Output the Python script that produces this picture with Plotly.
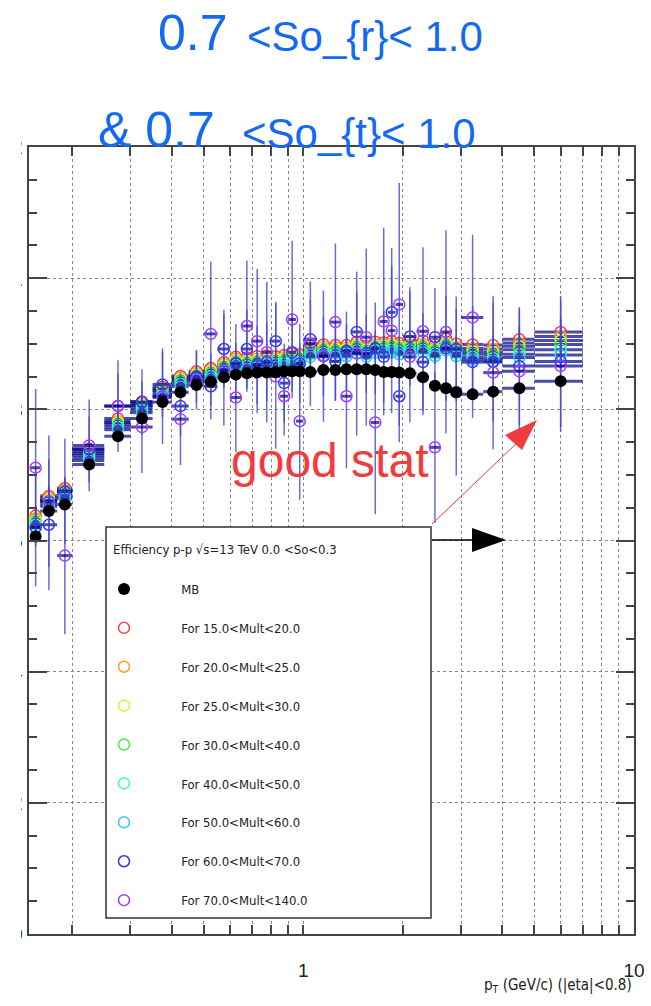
import math
import plotly.graph_objects as go

# ---------------- data ----------------
pt = [0.155, 0.17, 0.19,
      0.225, 0.275, 0.325, 0.375, 0.425, 0.475, 0.525, 0.575,
      0.625, 0.675, 0.725, 0.775, 0.825, 0.875, 0.925, 0.975,
      1.05, 1.15, 1.25, 1.35, 1.45, 1.55, 1.65, 1.75, 1.85, 1.95,
      2.1, 2.3, 2.5, 2.7, 2.9,
      3.25, 3.75, 4.5, 6.0]
pt_halfwidth = [0.005, 0.01, 0.01,
                0.025, 0.025, 0.025, 0.025, 0.025, 0.025, 0.025, 0.025,
                0.025, 0.025, 0.025, 0.025, 0.025, 0.025, 0.025, 0.025,
                0.05, 0.05, 0.05, 0.05, 0.05, 0.05, 0.05, 0.05, 0.05, 0.05,
                0.1, 0.1, 0.1, 0.1, 0.1,
                0.25, 0.25, 0.5, 1.0]

eff_mb = [0.606, 0.645, 0.655,
          0.716, 0.759, 0.786, 0.811, 0.826, 0.837, 0.842, 0.849,
          0.853, 0.855, 0.856, 0.856, 0.857, 0.858, 0.858, 0.858,
          0.857, 0.860, 0.860, 0.861, 0.861, 0.861, 0.860, 0.857, 0.857, 0.856,
          0.855, 0.849, 0.836, 0.832, 0.826,
          0.823, 0.827, 0.832, 0.843]
err_mb = [0.004, 0.004, 0.004, 0.003, 0.003, 0.003, 0.003, 0.003, 0.003, 0.003, 0.003,
          0.003, 0.003, 0.003, 0.003, 0.003, 0.003, 0.003, 0.003,
          0.003, 0.003, 0.003, 0.003, 0.003, 0.003, 0.003, 0.003, 0.003, 0.003,
          0.004, 0.004, 0.004, 0.004, 0.004, 0.005, 0.005, 0.006, 0.008]

eff_15_20 = [0.638, 0.668, 0.680,
             0.740, 0.786, 0.812, 0.834, 0.851, 0.858, 0.863, 0.872,
             0.880, 0.879, 0.881, 0.882, 0.881, 0.883, 0.885, 0.884,
             0.897, 0.899, 0.898, 0.898, 0.903, 0.897, 0.903, 0.902, 0.904, 0.901,
             0.904, 0.905, 0.899, 0.908, 0.900,
             0.899, 0.898, 0.907, 0.918]
eff_20_25 = [0.634, 0.665, 0.677,
             0.736, 0.782, 0.808, 0.831, 0.848, 0.855, 0.860, 0.869,
             0.877, 0.875, 0.877, 0.878, 0.878, 0.879, 0.881, 0.881,
             0.893, 0.895, 0.894, 0.894, 0.899, 0.893, 0.899, 0.899, 0.900, 0.897,
             0.899, 0.900, 0.894, 0.903, 0.895,
             0.893, 0.892, 0.901, 0.911]
eff_25_30 = [0.631, 0.662, 0.675,
             0.733, 0.780, 0.806, 0.829, 0.846, 0.853, 0.858, 0.867,
             0.875, 0.873, 0.875, 0.876, 0.876, 0.877, 0.879, 0.879,
             0.891, 0.893, 0.892, 0.892, 0.897, 0.891, 0.897, 0.897, 0.898, 0.895,
             0.897, 0.898, 0.892, 0.901, 0.892,
             0.889, 0.887, 0.896, 0.905]
eff_30_40 = [0.628, 0.660, 0.672,
             0.730, 0.777, 0.803, 0.826, 0.843, 0.850, 0.855, 0.864,
             0.872, 0.870, 0.872, 0.873, 0.873, 0.874, 0.876, 0.876,
             0.888, 0.890, 0.889, 0.889, 0.894, 0.888, 0.894, 0.894, 0.895, 0.892,
             0.894, 0.895, 0.889, 0.898, 0.889,
             0.885, 0.883, 0.891, 0.899]
eff_40_50 = [0.624, 0.656, 0.668,
             0.726, 0.773, 0.799, 0.822, 0.839, 0.846, 0.851, 0.860,
             0.868, 0.866, 0.868, 0.869, 0.869, 0.870, 0.872, 0.872,
             0.884, 0.886, 0.885, 0.885, 0.890, 0.884, 0.890, 0.890, 0.891, 0.888,
             0.890, 0.891, 0.885, 0.894, 0.885,
             0.880, 0.878, 0.884, 0.891]
eff_50_60 = [0.620, 0.652, 0.664,
             0.722, 0.769, 0.795, 0.818, 0.835, 0.842, 0.847, 0.856,
             0.864, 0.862, 0.864, 0.865, 0.865, 0.866, 0.868, 0.868,
             0.880, 0.882, 0.881, 0.881, 0.886, 0.880, 0.886, 0.886, 0.887, 0.884,
             0.886, 0.887, 0.881, 0.890, 0.881,
             0.876, 0.874, 0.879, 0.883]
err_mid_mult = [0.015, 0.015, 0.015,
                0.012, 0.010, 0.010, 0.010, 0.008, 0.008, 0.008, 0.008,
                0.008, 0.008, 0.008, 0.008, 0.008, 0.008, 0.008, 0.008,
                0.010, 0.010, 0.010, 0.010, 0.010, 0.010, 0.010, 0.010, 0.010, 0.010,
                0.012, 0.012, 0.012, 0.012, 0.012,
                0.015, 0.015, 0.020, 0.025]

eff_60_70 = [0.620, 0.624, 0.675,
             0.739, 0.805, 0.811, 0.838, 0.805, 0.850, 0.835, 0.892,
             0.870, 0.892, 0.868, 0.872, 0.904, 0.840, 0.887, 0.870,
             0.907, 0.881, 0.873, 0.889, 0.918, 0.885, 0.893, 0.880, 0.948, 0.820,
             0.911, 0.872, 0.910, 0.893, 0.892,
             0.872, 0.872, 0.866, 0.873]
err_60_70 = [0.090, 0.100, 0.080,
             0.050, 0.050, 0.050, 0.050, 0.045, 0.040, 0.050, 0.060,
             0.060, 0.060, 0.060, 0.060, 0.060, 0.060, 0.060, 0.060,
             0.060, 0.060, 0.060, 0.060, 0.060, 0.060, 0.070, 0.070, 0.070, 0.070,
             0.075, 0.075, 0.075, 0.080, 0.080,
             0.085, 0.090, 0.090, 0.100]

eff_70_140 = [0.711, 0.660, 0.577,
              0.745, 0.805, 0.773, 0.820, 0.785, 0.845, 0.915, 0.860,
              0.818, 0.927, 0.904, 0.887, 0.850, 0.820, 0.937, 0.782,
              0.900, 0.881, 0.933, 0.820, 0.885, 0.910, 0.780, 0.934, 0.920, 0.960,
              0.880, 0.919, 0.742, 0.918, 0.826,
              0.940, 0.856, 0.858, 0.866]
err_70_140 = [0.120, 0.100, 0.120,
              0.070, 0.070, 0.070, 0.073, 0.070, 0.045, 0.110, 0.085,
              0.083, 0.100, 0.110, 0.107, 0.110, 0.060, 0.120, 0.120,
              0.095, 0.100, 0.120, 0.110, 0.125, 0.135, 0.140, 0.143, 0.126, 0.185,
              0.100, 0.128, 0.115, 0.155, 0.127,
              0.126, 0.117, 0.095, 0.100]

x_tick_values = [0.2, 0.3, 0.4, 0.5, 0.6, 0.7, 0.8, 0.9, 1, 2, 3, 4, 5, 6, 7, 8, 9, 10]
x_tick_text = ["", "", "", "", "", "", "", "", "1", "", "", "", "", "", "", "", "", "10"]

series = [
    ("For 15.0&lt;Mult&lt;20.0", eff_15_20, err_mid_mult, "#ff3c3c"),
    ("For 20.0&lt;Mult&lt;25.0", eff_20_25, err_mid_mult, "#ffa020"),
    ("For 25.0&lt;Mult&lt;30.0", eff_25_30, err_mid_mult, "#c4ff30"),
    ("For 30.0&lt;Mult&lt;40.0", eff_30_40, err_mid_mult, "#3cf03c"),
    ("For 40.0&lt;Mult&lt;50.0", eff_40_50, err_mid_mult, "#3cffc4"),
    ("For 50.0&lt;Mult&lt;60.0", eff_50_60, err_mid_mult, "#30c8ff"),
    ("For 60.0&lt;Mult&lt;70.0", eff_60_70, err_60_70, "#3434ff"),
    ("For 70.0&lt;Mult&lt;140.0", eff_70_140, err_70_140, "#a43cff"),
]

# ---------------- layout helpers ----------------
W, H = 651, 1006
L, R, T, B = 29, 17, 147, 72
PW, PH = W - L - R, H - T - B


def px(xp):
    return (xp - L) / PW


def py(yp):
    return (H - B - yp) / PH


NARROW = "Liberation Sans Narrow, DejaVu Sans Condensed, Arial Narrow, sans-serif"
SANS = "Liberation Sans, Arial, Helvetica, sans-serif"
BLUE_TXT = "#1469f2"
PAD = "\u00a0" * 10

fig = go.Figure()

HBAR = "rgba(0,0,140,0.7)"
VBAR = "rgba(70,70,210,0.8)"

for i, (name, vals, errs, col) in enumerate(series):
    fig.add_trace(go.Scatter(
        x=pt, y=vals, mode="markers", name=PAD + name,
        legendgroup="g%d" % (i + 1), legendrank=i + 2,
        marker=dict(symbol="circle-open", size=11, color=col, line=dict(width=1.5, color=col)),
        error_x=dict(type="data", array=pt_halfwidth, visible=True, width=0,
                     thickness=3, color=HBAR),
        error_y=dict(type="data", array=errs, visible=True, width=0,
                     thickness=1.5, color=VBAR),
    ))

fig.add_trace(go.Scatter(
    x=pt, y=eff_mb, mode="markers", name=PAD + "MB",
    legendgroup="g0", legendrank=1,
    marker=dict(symbol="circle", size=12, color="black"),
    error_x=dict(type="data", array=pt_halfwidth, visible=True, width=0,
                 thickness=3, color=HBAR),
    error_y=dict(type="data", array=err_mb, visible=True, width=0,
                 thickness=1.5, color=VBAR),
))

axis_common = dict(showline=True, linecolor="#444", linewidth=2, mirror="allticks",
                   ticks="inside", tickcolor="#444", tickwidth=2,
                   showgrid=True, gridcolor="#888", griddash="dot", gridwidth=1,
                   zeroline=False, automargin=False)

fig.update_xaxes(type="log", range=[math.log10(0.148), 1.0],
                 tickvals=x_tick_values, ticktext=x_tick_text, ticklen=9,
                 tickfont=dict(family=SANS, size=19, color="#222"),
                 ticklabelstandoff=18, **axis_common)
fig.update_yaxes(range=[0, 1.2], tick0=0, dtick=0.2, ticklen=18,
                 tickfont=dict(family=SANS, size=21, color="#222"),
                 minor=dict(dtick=0.05, ticks="inside", ticklen=8, tickcolor="#444",
                            tickwidth=2, showgrid=False),
                 **axis_common)

shapes = [
    # clip left tick labels as in the reference
    dict(type="rect", xref="paper", yref="paper", x0=px(-40), x1=px(21), y0=py(1100), y1=py(-40),
         fillcolor="white", line=dict(width=0), layer="above"),
    # legend box
    dict(type="rect", xref="paper", yref="paper", x0=px(106), x1=px(431), y0=py(918), y1=py(527),
         fillcolor="white", line=dict(width=1.5, color="#333"), layer="above"),
    # red arrow
    dict(type="line", xref="paper", yref="paper", x0=px(432), y0=py(524), x1=px(520), y1=py(440),
         line=dict(color="#f03c3c", width=1), layer="above"),
    dict(type="path", xref="paper", yref="paper",
         path="M %f %f L %f %f L %f %f Z" % (px(537), py(420), px(505), py(435), px(522), py(450)),
         fillcolor="#f03c3c", line=dict(width=0), layer="above"),
    # black arrow
    dict(type="line", xref="paper", yref="paper", x0=px(432), y0=py(540), x1=px(475), y1=py(540),
         line=dict(color="black", width=1.5), layer="above"),
    dict(type="path", xref="paper", yref="paper",
         path="M %f %f L %f %f L %f %f Z" % (px(472), py(528), px(506), py(540), px(472), py(552)),
         fillcolor="black", line=dict(width=0), layer="above"),
]

annotations = [
    dict(text="0.7", x=px(156), y=py(33), xref="paper", yref="paper", xanchor="left", yanchor="middle",
         showarrow=False, font=dict(family=SANS, size=50, color=BLUE_TXT)),
    dict(text="&lt;So_{r}&lt; 1.0", x=px(245), y=py(37), xref="paper", yref="paper", xanchor="left",
         yanchor="middle", showarrow=False, font=dict(family=SANS, size=42, color=BLUE_TXT)),
    dict(text="&amp; 0.7", x=px(96), y=py(130), xref="paper", yref="paper", xanchor="left", yanchor="middle",
         showarrow=False, font=dict(family=SANS, size=50, color=BLUE_TXT)),
    dict(text="&lt;So_{t}&lt; 1.0", x=px(240), y=py(134), xref="paper", yref="paper", xanchor="left",
         yanchor="middle", showarrow=False, font=dict(family=SANS, size=42, color=BLUE_TXT)),
    dict(text="good stat", x=px(229), y=py(460), xref="paper", yref="paper", xanchor="left",
         yanchor="middle", showarrow=False, font=dict(family=SANS, size=48, color="#f03c3c")),
    dict(text="p<sub>T</sub> (GeV/c) (|eta|&lt;0.8)", x=px(634), y=py(985), xref="paper", yref="paper",
         xanchor="right", yanchor="middle", showarrow=False,
         font=dict(family=NARROW, size=15, color="#222")),
    dict(text="Efficiency p-p √s=13 TeV 0.0 &lt;So&lt;0.3", x=px(111), y=py(549), xref="paper", yref="paper",
         xanchor="left", yanchor="middle", showarrow=False,
         font=dict(family=NARROW, size=13, color="#222")),
]

fig.update_layout(
    width=W, height=H, autosize=False,
    margin=dict(l=L, r=R, t=T, b=B, pad=0, autoexpand=False),
    paper_bgcolor="white", plot_bgcolor="white",
    shapes=shapes, annotations=annotations,
    showlegend=True,
    legend=dict(x=px(104), y=py(574), xanchor="left", yanchor="top",
                bgcolor="rgba(0,0,0,0)", borderwidth=0,
                traceorder="grouped", tracegroupgap=19, itemwidth=30,
                font=dict(family=NARROW, size=13, color="#222")),
)

fig.write_html("out.html")
